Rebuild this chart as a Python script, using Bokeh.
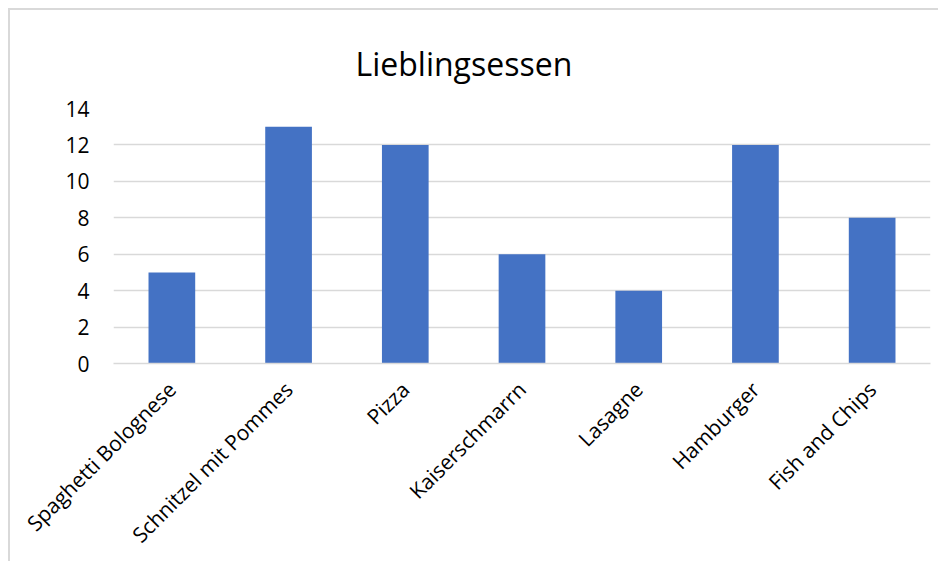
import math
from bokeh.plotting import figure
from bokeh.embed import file_html
from bokeh.resources import INLINE
from bokeh.models import ColumnDataSource, FixedTicker, Range1d

categories = ["Spaghetti Bolognese", "Schnitzel mit Pommes", "Pizza", "Kaiserschmarrn",
              "Lasagne", "Hamburger", "Fish and Chips"]
values = [5, 13, 12, 6, 4, 12, 8]
y_ticks = [0, 2, 4, 6, 8, 10, 12, 14]

src = ColumnDataSource(dict(cat=categories, val=values))

FONT = "Open Sans"
p = figure(x_range=categories, y_range=Range1d(0, 14),
           frame_width=817, frame_height=255,
           output_backend="svg", toolbar_location=None,
           min_border_left=103, min_border_right=8, min_border_top=98,
           min_border_bottom=189, title="Lieblingsessen")
p.styles = {"border-left": "2px solid #d9d9d9", "border-top": "2px solid #d9d9d9",
            "margin-left": "8px", "margin-top": "8px"}

p.vbar(x="cat", top="val", width=0.4, source=src, color="#4472C4", line_color=None)

p.title.align = "left"
p.title.offset = 242
p.title.text_font = FONT
p.title.text_font_size = "32px"
p.title.text_font_style = "normal"
p.title.text_color = "#000000"
p.title.standoff = 48

p.outline_line_color = None
p.xgrid.grid_line_color = None
p.ygrid.grid_line_color = "#d9d9d9"
p.ygrid.grid_line_width = 1.5
p.yaxis.ticker = FixedTicker(ticks=y_ticks)
p.yaxis.axis_line_color = None
p.yaxis.major_tick_line_color = None
p.yaxis.minor_tick_line_color = None
p.yaxis.major_label_text_font = FONT
p.yaxis.major_label_text_font_size = "21px"
p.yaxis.major_label_text_color = "#000000"
p.yaxis.major_label_standoff = 18

p.xaxis.axis_line_color = "#d9d9d9"
p.xaxis.axis_line_width = 1.5
p.xaxis.major_tick_line_color = None
p.xaxis.minor_tick_line_color = None
p.xaxis.major_label_orientation = math.pi / 4
p.xaxis.major_label_text_font = FONT
p.xaxis.major_label_text_font_size = "21px"
p.xaxis.major_label_text_color = "#000000"
p.xaxis.major_label_standoff = 16
p.x_range.range_padding = 0

open("out.html", "w").write(file_html(p, INLINE))
